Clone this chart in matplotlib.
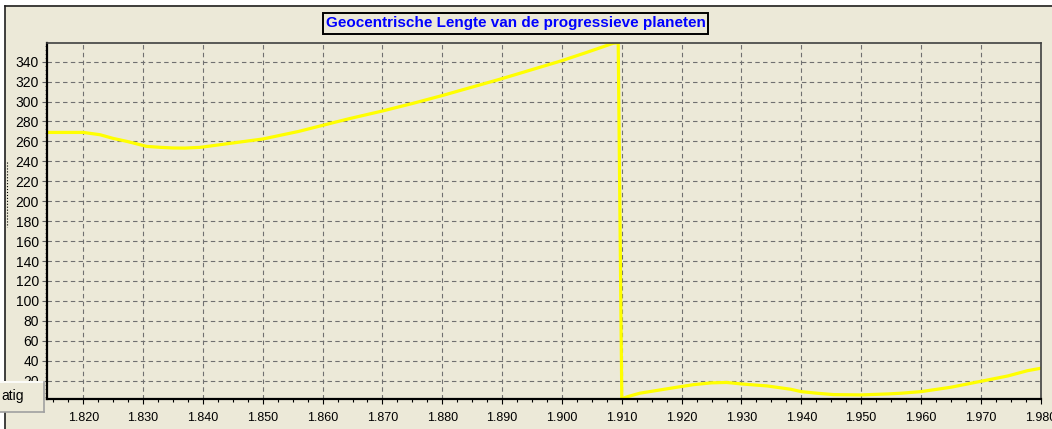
import matplotlib.pyplot as plt
from matplotlib.patches import Rectangle
from matplotlib.lines import Line2D
from matplotlib.ticker import MultipleLocator, FuncFormatter

plt.rcParams['font.family'] = ['Liberation Sans', 'DejaVu Sans']

# progressive geocentric longitude (degrees) per year
years = [1813.9, 1820, 1822.8, 1825, 1827.3, 1830.6, 1833, 1835, 1837, 1839.5,
         1842, 1845, 1850, 1856, 1860.4, 1864.6, 1870, 1875, 1880, 1885, 1890,
         1895, 1900, 1904, 1908.6, 1909.4, 1910.0, 1911, 1913, 1916.4, 1919.2,
         1922, 1925, 1927.5, 1930, 1934.3, 1938.2, 1940, 1942.6, 1945.4, 1950,
         1954.5, 1956.7, 1960, 1965, 1970.3, 1974.5, 1977.8, 1980]
lengte = [269, 269, 266.7, 263, 260, 255, 254, 253.4, 253.3, 254,
          256, 258.4, 262.4, 270, 276.7, 283, 290.5, 298, 306, 314.5, 323,
          332, 341, 349, 358.5, 359, 1.9, 4, 7.4, 10.7, 13.4,
          16, 17.8, 18.2, 16.7, 14.7, 11.4, 9, 7.4, 6, 5.7,
          6.7, 7.4, 9, 13.4, 19.7, 24.7, 30, 32.4]

title = 'Geocentrische Lengte van de progressieve planeten'
bg = '#ECE9D8'
W, H = 1052, 429


def px(x, y):
    return x / W, 1 - y / H


fig = plt.figure(figsize=(W / 100, H / 100), dpi=100)
fig.patch.set_facecolor(bg)

# white margin at top/left with dark frame line
fig.add_artist(Rectangle(px(0, 5), 1, 5 / H, transform=fig.transFigure,
                         fc='white', ec='none', zorder=-1))
fig.add_artist(Rectangle(px(0, H), 4.5 / W, 1, transform=fig.transFigure,
                         fc='white', ec='none', zorder=-1))
fig.add_artist(Line2D([px(5, 6)[0], 1], [px(5, 6)[1]] * 2, transform=fig.transFigure,
                      color='#202020', lw=1.2))
fig.add_artist(Line2D([px(5, 6)[0]] * 2, [px(5, 6)[1], 0], transform=fig.transFigure,
                      color='#202020', lw=1.2))

l, t = px(46.7, 42.7)
r, b = px(1040.7, 398.7)
ax = fig.add_axes([l, b, r - l, t - b])
ax.set_facecolor(bg)

ax.plot(years, lengte, color='#FFFF00', lw=2.3, solid_joinstyle='round')

ax.set_xlim(min(years), max(years))
ax.set_ylim(min(lengte), max(lengte))

ax.xaxis.set_major_locator(MultipleLocator(10))
ax.xaxis.set_minor_locator(MultipleLocator(2.5))
ax.yaxis.set_major_locator(MultipleLocator(20))
ax.yaxis.set_minor_locator(MultipleLocator(4))
ax.xaxis.set_major_formatter(FuncFormatter(lambda v, p: f'{int(round(v)):,}'.replace(',', '.')))

ax.grid(True, which='major', color='#707070', lw=0.8, ls=(0, (4, 3)))

for s in ['left', 'bottom']:
    ax.spines[s].set_color('black')
    ax.spines[s].set_linewidth(1.6)
for s in ['top', 'right']:
    ax.spines[s].set_color('#404040')
    ax.spines[s].set_linewidth(1.2)

ax.tick_params(axis='x', which='major', direction='out', length=3.5, width=0.8,
               color='black', labelsize=9, pad=6)
ax.tick_params(axis='x', which='minor', direction='out', length=2, width=0.8, color='black')
ax.tick_params(axis='y', which='major', direction='out', length=3.5, width=0.8,
               color='#606060', labelsize=10, pad=2)
ax.tick_params(axis='y', which='minor', direction='out', length=1.5, width=0.6, color='#606060')

cx, cy = px(515.5, 23.5)
fig.text(cx, cy, title, ha='center', va='center', color='#0000FF',
         fontsize=11, fontweight='bold',
         bbox=dict(boxstyle='square,pad=0.2', fc=bg, ec='black', lw=1.4))

# clipped rotated axis caption remnant at the far left
fig.add_artist(Line2D([px(6.5, 0)[0]] * 2, [px(0, 162)[1], px(0, 227)[1]],
                      transform=fig.transFigure, color='black', lw=0.8, ls=':'))

# "atig" tab button bottom left
bx, by = px(0, 412)
fig.add_artist(Rectangle((bx, by), 44 / W, 31 / H, transform=fig.transFigure,
                         fc=bg, ec='none', zorder=5))
fig.add_artist(Line2D([0, 44 / W], [px(0, 381.5)[1]] * 2, transform=fig.transFigure,
                      color='white', lw=1.2, zorder=6))
fig.add_artist(Line2D([44 / W] * 2, [px(0, 381.5)[1], by], transform=fig.transFigure,
                      color='#A0A0A0', lw=1.2, zorder=6))
fig.add_artist(Line2D([0, 44 / W], [by] * 2, transform=fig.transFigure,
                      color='#A0A0A0', lw=1.2, zorder=6))
tx, ty = px(1, 396)
fig.text(tx, ty, 'atig', ha='left', va='center', fontsize=10, color='black', zorder=7)

fig.savefig('out.png', dpi=100, facecolor=fig.get_facecolor())
